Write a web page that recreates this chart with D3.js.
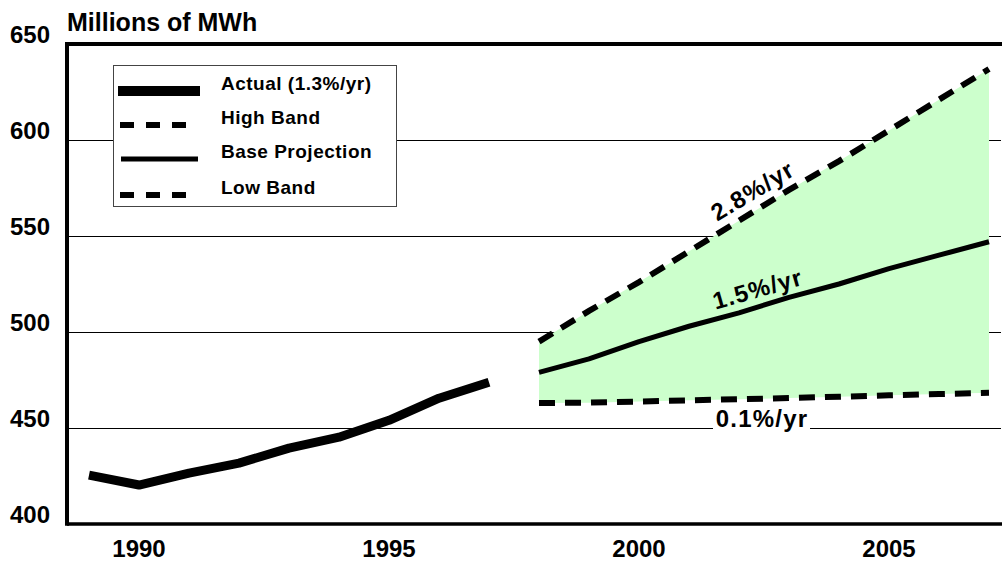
<!DOCTYPE html>
<html>
<head>
<meta charset="utf-8">
<script src="https://cdn.jsdelivr.net/npm/d3@7"></script>
<style>
  html, body { margin: 0; padding: 0; background: #fff; }
  svg { display: block; font-family: "Liberation Sans", Arial, sans-serif; font-weight: bold; }
</style>
</head>
<body>
<svg id="chart" width="1002" height="563"></svg>
<script>
// ---- data ----
const actualYears = [1989, 1990, 1991, 1992, 1993, 1994, 1995, 1996, 1997];
const actualValues = [425.5, 420.3, 426.5, 431.7, 439.5, 445.2, 454, 465.5, 473.8];
const projYears = [1998, 1999, 2000, 2001, 2002, 2003, 2004, 2005, 2006, 2007];
const baseValues = [479, 486, 495, 503, 510, 518, 525, 533, 540, 547];
const highValues = [495, 511, 526, 542, 558, 574, 589, 605, 621, 637];
const lowValues = [463, 463.2, 463.8, 464.4, 465, 465.6, 466.3, 467, 467.7, 468.3];
const xTicks = [1990, 1995, 2000, 2005];
const yTicks = [400, 450, 500, 550, 600, 650];
const legendLabels = ["Actual (1.3%/yr)", "High Band", "Base Projection", "Low Band"];
const rateLabels = ["2.8%/yr", "1.5%/yr", "0.1%/yr"];
const yTitle = "Millions of MWh";

// ---- layout ----
const svg = d3.select("#chart");
const pL = 67, pR = 1002, pT = 44, pB = 524;
const x = d3.scaleLinear().domain([1990, 2005]).range([139, 889]);
const y = d3.scaleLinear().domain([400, 650]).range([pB, pT]);

// gridlines
svg.append("g").selectAll("line").data(yTicks.filter(v => v > 400 && v < 650)).join("line")
  .attr("x1", pL).attr("x2", 1001)
  .attr("y1", d => y(d) + 0.5).attr("y2", d => y(d) + 0.5)
  .attr("stroke", "#000").attr("stroke-width", 1);

// green band
const proj = projYears.map((yr, i) => ({yr, hi: highValues[i], lo: lowValues[i], base: baseValues[i]}));
svg.append("path").datum(proj)
  .attr("d", d3.area().x(d => x(d.yr)).y0(d => y(d.lo)).y1(d => y(d.hi)))
  .attr("fill", "#ccffcc");

// 0.1% label with white background over gridline
svg.append("rect").attr("x", 713).attr("y", 412).attr("width", 97).attr("height", 22).attr("fill", "#fff");

// frame
svg.append("line").attr("x1", pL).attr("x2", 1002).attr("y1", pT).attr("y2", pT)
  .attr("stroke", "#000").attr("stroke-width", 4);
svg.append("line").attr("x1", pL).attr("x2", 1002).attr("y1", pB).attr("y2", pB)
  .attr("stroke", "#000").attr("stroke-width", 3.5);
svg.append("line").attr("x1", pL).attr("x2", pL).attr("y1", pT - 2).attr("y2", pB + 1.75)
  .attr("stroke", "#000").attr("stroke-width", 4);

// lines
const line = d3.line().x(d => x(d[0])).y(d => y(d[1]));
svg.append("path").datum(actualYears.map((yr, i) => [yr, actualValues[i]]))
  .attr("d", line).attr("fill", "none").attr("stroke", "#000").attr("stroke-width", 9)
  .attr("stroke-linejoin", "round");
svg.append("path").datum(proj.map(d => [d.yr, d.base]))
  .attr("d", line).attr("fill", "none").attr("stroke", "#000").attr("stroke-width", 5)
  .attr("stroke-linejoin", "round");
svg.append("path").datum(proj.map(d => [d.yr, d.hi]))
  .attr("d", line).attr("fill", "none").attr("stroke", "#000").attr("stroke-width", 6)
  .attr("stroke-dasharray", "16,10");
svg.append("path").datum(proj.map(d => [d.yr, d.lo]))
  .attr("d", line).attr("fill", "none").attr("stroke", "#000").attr("stroke-width", 6)
  .attr("stroke-dasharray", "16,10");

// rate labels
const rl = svg.append("g").attr("font-size", 24).attr("letter-spacing", 1.2).attr("text-anchor", "middle");
rl.append("text").attr("transform", "translate(757,198) rotate(-31)").text(rateLabels[0]);
rl.append("text").attr("transform", "translate(760,297) rotate(-16)").text(rateLabels[1]);
rl.append("text").attr("x", 762).attr("y", 427).text(rateLabels[2]);

// axes labels
svg.append("g").selectAll("text").data(yTicks).join("text")
  .attr("x", 50).attr("y", d => y(d) - 1).attr("text-anchor", "end").attr("font-size", 24)
  .text(d => d);
svg.append("g").selectAll("text").data(xTicks).join("text")
  .attr("x", d => x(d)).attr("y", 557).attr("text-anchor", "middle").attr("font-size", 24)
  .text(d => d);
svg.append("text").attr("x", 67).attr("y", 31).attr("font-size", 25).text(yTitle);

// legend
const lg = svg.append("g");
lg.append("rect").attr("x", 113.5).attr("y", 65.5).attr("width", 283).attr("height", 141)
  .attr("fill", "#fff").attr("stroke", "#444").attr("stroke-width", 1);
const rowsY = [91, 125, 159, 195];
const styles = [
  {w: 10, dash: null, x1: 118, x2: 200},
  {w: 6, dash: "14,12", x1: 120, x2: 190},
  {w: 5, dash: null, x1: 121, x2: 198},
  {w: 6, dash: "14,12", x1: 120, x2: 190}
];
legendLabels.forEach((lab, i) => {
  const s = styles[i];
  lg.append("line").attr("x1", s.x1).attr("x2", s.x2).attr("y1", rowsY[i]).attr("y2", rowsY[i])
    .attr("stroke", "#000").attr("stroke-width", s.w).attr("stroke-dasharray", s.dash);
  lg.append("text").attr("x", 221).attr("y", rowsY[i] - 1).attr("font-size", 19)
    .attr("letter-spacing", 0.5).text(lab);
});
</script>
</body>
</html>
